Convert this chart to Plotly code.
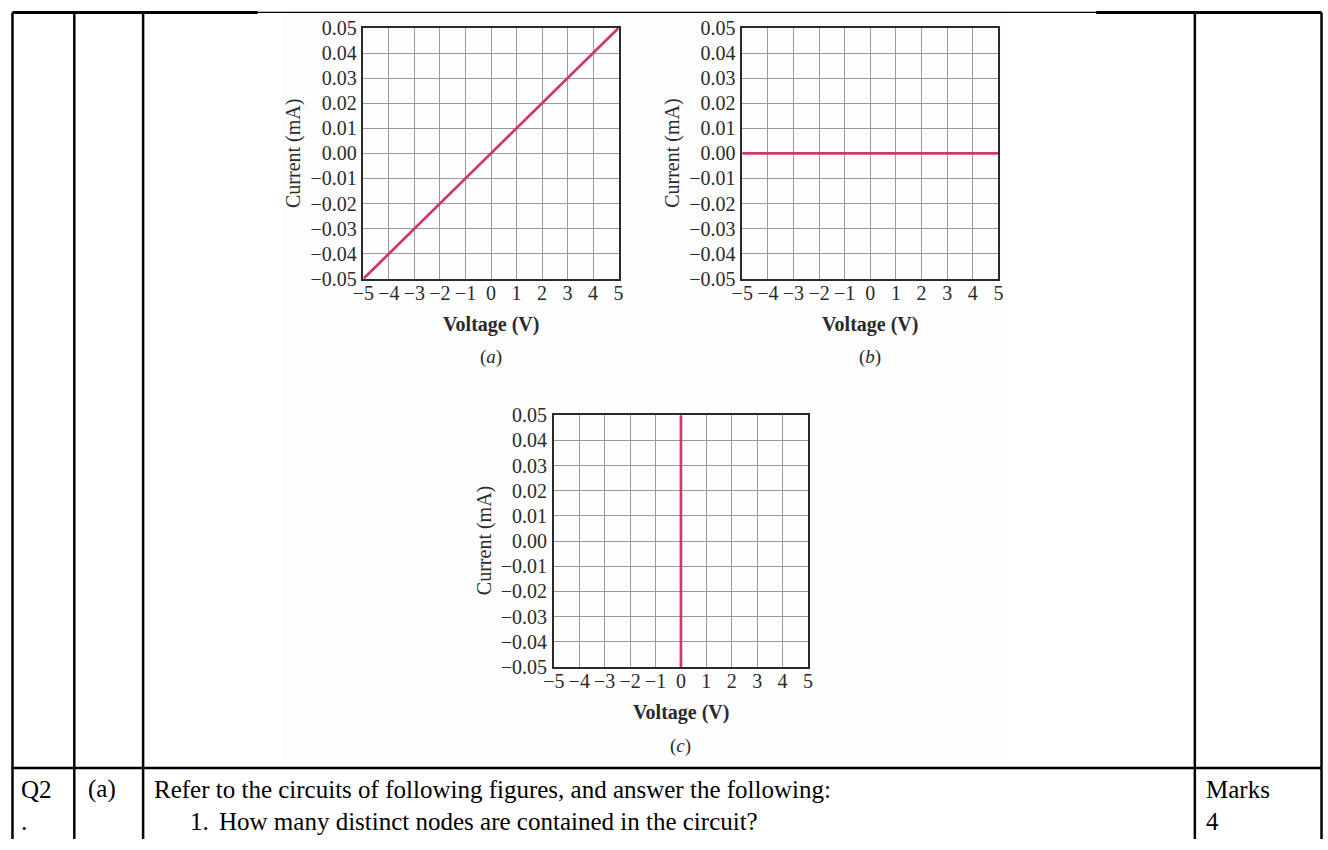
import plotly.graph_objects as go

W, H = 1328, 850

# the page body shifts and rescales the figure slightly; layout positions
# below are given in final page pixels and mapped back to figure pixels
VIEW_SX, VIEW_BX = 0.991, 8.5
VIEW_SY, VIEW_BY = 0.9785, 8.0

# I-V characteristics of three elements
voltage_a = [-5, 5]
current_a = [-0.05, 0.05]
voltage_b = [-5, 5]
current_b = [0.0, 0.0]
voltage_c = [0, 0]
current_c = [-0.05, 0.05]

x_ticks = [-5, -4, -3, -2, -1, 0, 1, 2, 3, 4, 5]
y_ticks = [-0.05, -0.04, -0.03, -0.02, -0.01, 0.0, 0.01, 0.02, 0.03, 0.04, 0.05]
panel_labels = ["a", "b", "c"]

LINE_COLOR = "#cf3572"
INK = "#2a2a2a"
SERIF = "Liberation Serif, Times New Roman, serif"


def fx(x):
    return min(max((x - VIEW_BX) / VIEW_SX, 1.5), W - 1.5)


def fy(y):
    return min(max((y - VIEW_BY) / VIEW_SY, 1.5), H)


def px(x):
    return fx(x) / W


def py(y):
    return 1 - fy(y) / H


fig = go.Figure()

# panel boxes in page pixels: left, right, top, bottom
panels = [
    (362, 618, 25, 277),
    (742, 999, 25, 277),
    (553, 808, 414, 667),
]
series = [(voltage_a, current_a), (voltage_b, current_b), (voltage_c, current_c)]


def label(x, y, text, size, angle=0, xanchor="center"):
    fig.add_annotation(x=px(x), y=py(y), xref="paper", yref="paper", text=text,
                       textangle=angle, showarrow=False,
                       xanchor=xanchor, yanchor="middle",
                       font=dict(family=SERIF, size=size, color=INK))


for i, ((l, r, t, b), (vx, cy)) in enumerate(zip(panels, series)):
    n = "" if i == 0 else str(i + 1)
    fig.add_trace(go.Scatter(
        x=vx, y=cy, mode="lines",
        line=dict(color=LINE_COLOR, width=2.7),
        xaxis="x" + n, yaxis="y" + n, showlegend=False, hoverinfo="skip",
    ))
    common = dict(
        showgrid=True, gridcolor="#9a9a9a", gridwidth=1,
        showline=True, linecolor=INK, linewidth=1.5, mirror=True,
        zeroline=False, ticks="", fixedrange=True,
        tickfont=dict(family=SERIF, size=20, color=INK),
    )
    fig.layout["xaxis" + n] = dict(
        domain=[px(l), px(r)], range=[-5, 5], anchor="y" + n,
        tickvals=x_ticks,
        ticktext=[("\u2212" + str(-v)) if v < 0 else str(v) for v in x_ticks],
        ticklabelstandoff=-5, **common,
    )
    fig.layout["yaxis" + n] = dict(
        domain=[py(b), py(t)], range=[-0.05, 0.05], anchor="x" + n,
        tickvals=y_ticks,
        ticktext=[("\u2212" + f"{-v:.2f}") if v < 0 else f"{v:.2f}" for v in y_ticks],
        ticklabelstandoff=1, **common,
    )
    cx = (l + r) / 2
    label(l - 70, (t + b) / 2, "Current (mA)", 20, angle=-90)
    label(cx, b + 46, "<b>Voltage (V)</b>", 20)
    label(cx, b + 79, "(<i>" + panel_labels[i] + "</i>)", 19)

# table rules
shapes = []


def hline(x0, x1, y, w):
    shapes.append(dict(type="line", xref="paper", yref="paper",
                       x0=px(x0), x1=px(x1), y0=py(y), y1=py(y),
                       line=dict(color="black", width=w)))


def vline(x, y0, y1, w):
    shapes.append(dict(type="line", xref="paper", yref="paper",
                       x0=px(x), x1=px(x), y0=py(y0), y1=py(y1),
                       line=dict(color="black", width=w)))


shapes.append(dict(type="rect", xref="paper", yref="paper", layer="below",
                   x0=px(280), x1=px(1008), y0=py(760), y1=py(8),
                   fillcolor="#fdfdfd", line=dict(width=0)))
hline(256, 1097, 2, 1.2)
hline(0, 256, 2, 3)
hline(1097, 1328, 2, 3)
hline(0, 1328, 768.5, 2.5)
for x in (2.5, 72, 141, 1196, 1326):
    vline(x, 0, 860, 2.5)

TEXT = dict(family=SERIF, size=25, color="black")
cells = [
    (17, 790, "Q2"),
    (17, 822, "."),
    (84, 790, "(a)"),
    (150, 790, "Refer to the circuits of following figures, and answer the following:"),
    (186, 822, "1."),
    (215, 822, "How many distinct nodes are contained in the circuit?"),
    (1205, 790, "Marks"),
    (1205, 822, "4"),
]
for x, y, s in cells:
    fig.add_annotation(x=px(x), y=py(y), xref="paper", yref="paper", text=s,
                       showarrow=False, xanchor="left", yanchor="middle", font=TEXT)

fig.update_layout(
    width=W, height=H, margin=dict(l=0, r=0, t=0, b=0),
    paper_bgcolor="white", plot_bgcolor="white", shapes=shapes,
)

fig.write_html("out.html")
